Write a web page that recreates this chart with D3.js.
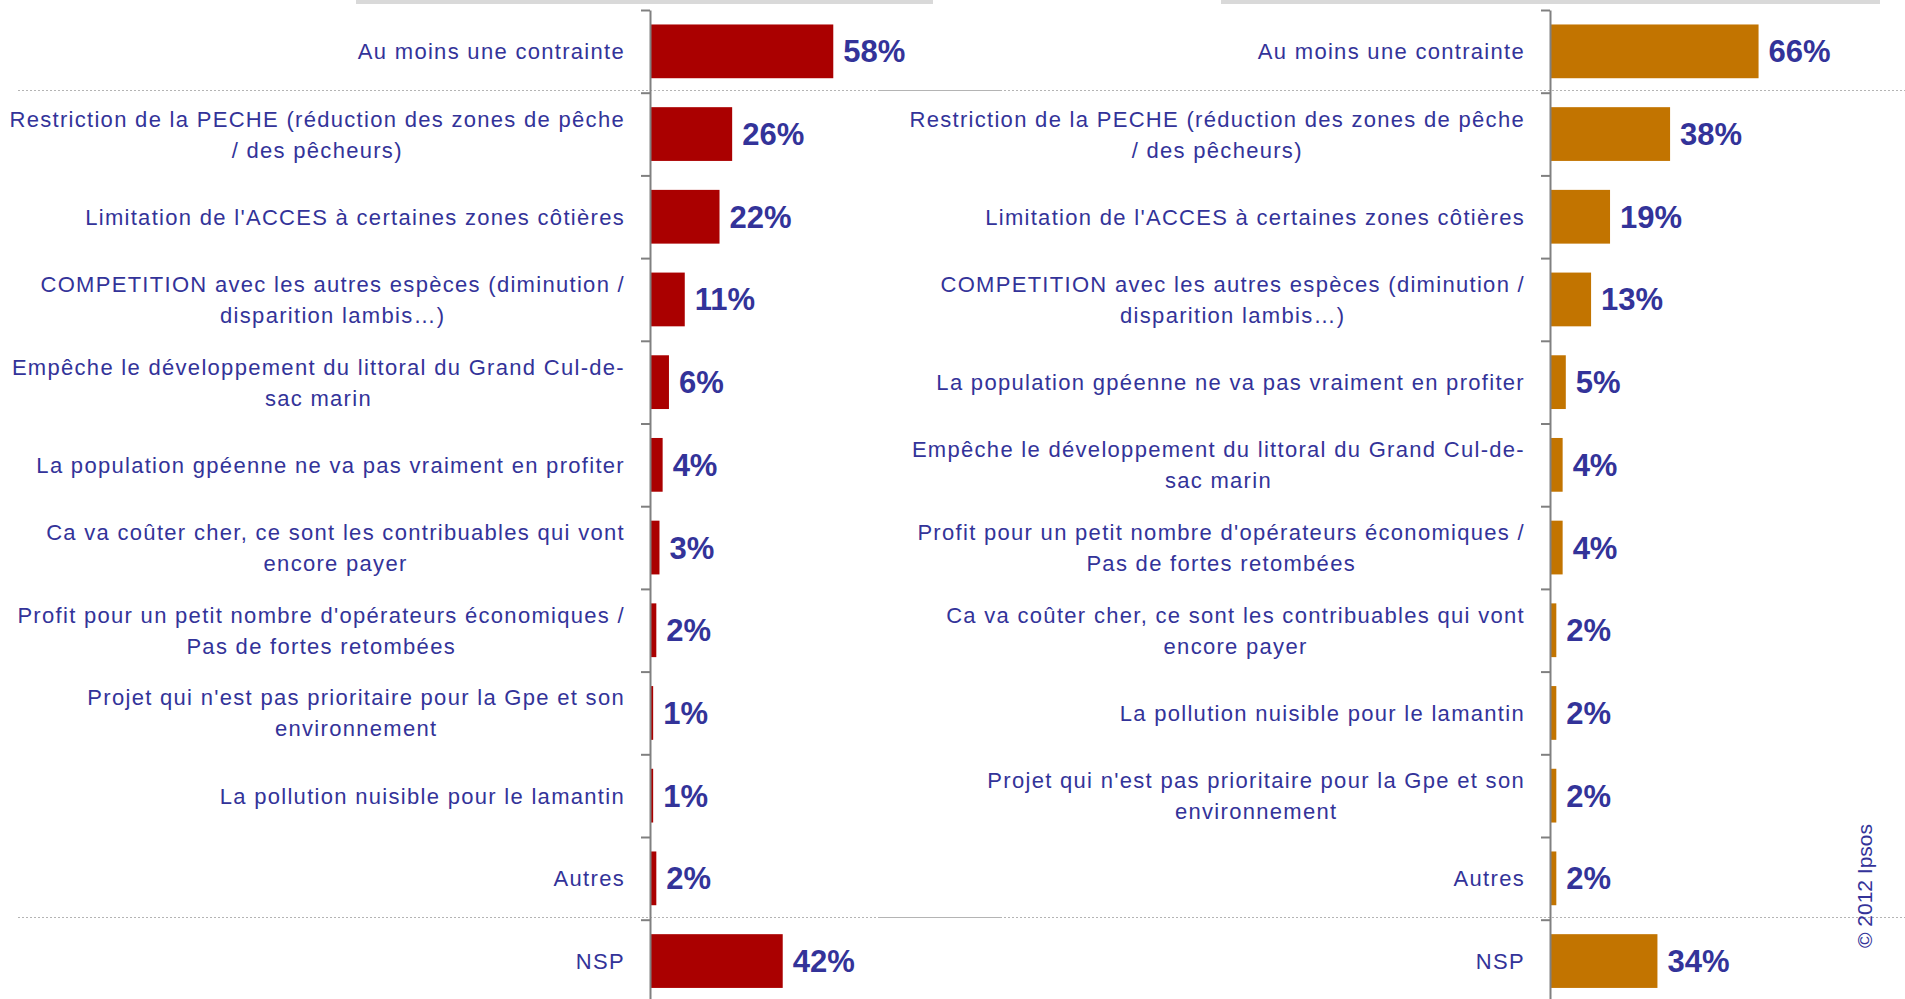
<!DOCTYPE html>
<html lang="fr">
<head>
<meta charset="utf-8">
<title>Contraintes</title>
<script src="https://d3js.org/d3.v7.min.js"></script>
<style>
  body { margin: 0; background: #fff; }
  .cat { font: 22px "Liberation Sans", Arial, sans-serif; fill: #333399; letter-spacing: 1.3px; }
  .val { font: bold 31px "Liberation Sans", Arial, sans-serif; fill: #333399; }
  .axis path, .axis line { stroke: #808080; stroke-width: 2; }
  .sep { stroke: #b4b4b4; stroke-width: 1; stroke-dasharray: 2,2; }
  .copy { font: 21px "Liberation Sans", Arial, sans-serif; fill: #333399; }
</style>
</head>
<body>
<svg id="chart" width="1905" height="999"></svg>
<script>
// left panel
var leftCategories = [
  "Au moins une contrainte",
  "Restriction de la PECHE (réduction des zones de pêche\n/ des pêcheurs)",
  "Limitation de l'ACCES à certaines zones côtières",
  "COMPETITION avec les autres espèces (diminution /\ndisparition lambis…)",
  "Empêche le développement du littoral du Grand Cul-de-\nsac marin",
  "La population gpéenne ne va pas vraiment en profiter",
  "Ca va coûter cher, ce sont les contribuables qui vont\nencore payer",
  "Profit pour un petit nombre d'opérateurs économiques /\nPas de fortes retombées",
  "Projet qui n'est pas prioritaire pour la Gpe et son\nenvironnement",
  "La pollution nuisible pour le lamantin",
  "Autres",
  "NSP"
];
var leftValues = [58, 26, 22, 11, 6, 4, 3, 2, 1, 1, 2, 42];

// right panel
var rightCategories = [
  "Au moins une contrainte",
  "Restriction de la PECHE (réduction des zones de pêche\n/ des pêcheurs)",
  "Limitation de l'ACCES à certaines zones côtières",
  "COMPETITION avec les autres espèces (diminution /\ndisparition lambis…)",
  "La population gpéenne ne va pas vraiment en profiter",
  "Empêche le développement du littoral du Grand Cul-de-\nsac marin",
  "Profit pour un petit nombre d'opérateurs économiques /\nPas de fortes retombées",
  "Ca va coûter cher, ce sont les contribuables qui vont\nencore payer",
  "La pollution nuisible pour le lamantin",
  "Projet qui n'est pas prioritaire pour la Gpe et son\nenvironnement",
  "Autres",
  "NSP"
];
var rightValues = [66, 38, 19, 13, 5, 4, 4, 2, 2, 2, 2, 34];

var svg = d3.select("#chart");
var step = 82.7, top0 = 10, n = leftValues.length;
var lineH = 31;

var x = d3.scaleLinear().domain([0, 100]).range([0, 316]);

function panel(cats, vals, x0, color, grey, sep) {
  var g = svg.append("g");
  var idx = d3.range(n);
  var y = d3.scaleBand().domain(idx).range([top0, top0 + n * step])
    .paddingInner(0.35).paddingOuter(0.175);
  var yTick = d3.scaleLinear().domain([0, n]).range([top0, top0 + n * step]);

  // grey strip at the top
  g.append("rect").attr("x", grey[0]).attr("y", 0)
    .attr("width", grey[1] - grey[0]).attr("height", 4).attr("fill", "#d9d9d9");

  // dotted separators after first row and before NSP
  [1, n - 1].forEach(function(k) {
    g.append("line").attr("class", "sep")
      .attr("x1", sep[0]).attr("x2", sep[1])
      .attr("y1", Math.round(yTick(k)) - 2.5).attr("y2", Math.round(yTick(k)) - 2.5);
  });

  g.selectAll("rect.bar").data(vals).enter().append("rect")
    .attr("class", "bar")
    .attr("x", x0)
    .attr("y", function(d, i) { return y(i); })
    .attr("width", function(d) { return x(d); })
    .attr("height", y.bandwidth())
    .attr("fill", color);

  g.selectAll("text.val").data(vals).enter().append("text")
    .attr("class", "val")
    .attr("x", function(d) { return x0 + x(d) + 10; })
    .attr("y", function(d, i) { return y(i) + y.bandwidth() / 2 + 11; })
    .text(function(d) { return d + "%"; });

  // labels: block right-aligned to the axis, lines centred inside the block
  var labels = g.selectAll("text.cat").data(cats).enter().append("text")
    .attr("class", "cat")
    .attr("text-anchor", "middle")
    .attr("y", function(d, i) {
      var lines = d.split("\n").length;
      return y(i) + y.bandwidth() / 2 + 8 - (lines - 1) * lineH / 2;
    });
  labels.each(function(d) {
    var t = d3.select(this);
    d.split("\n").forEach(function(line, j) {
      t.append("tspan").attr("dy", j ? lineH : 0).text(line);
    });
    var w = d3.max(t.selectAll("tspan").nodes(), function(s) { return s.getComputedTextLength(); });
    t.selectAll("tspan").attr("x", x0 - 25 - w / 2);
  });

  g.append("g").attr("class", "axis")
    .attr("transform", "translate(" + x0 + ",0)")
    .call(d3.axisLeft(yTick).tickValues(d3.range(n)).tickSize(9).tickSizeOuter(0).tickFormat(""));
}

panel(leftCategories, leftValues, 650, "#aa0000", [356, 933], [18, 1000]);
panel(rightCategories, rightValues, 1550, "#c27400", [1221, 1880], [880, 1905]);

svg.append("text").attr("class", "copy")
  .attr("transform", "translate(1872,886) rotate(-90)")
  .attr("text-anchor", "middle")
  .text("© 2012 Ipsos");
</script>
</body>
</html>
